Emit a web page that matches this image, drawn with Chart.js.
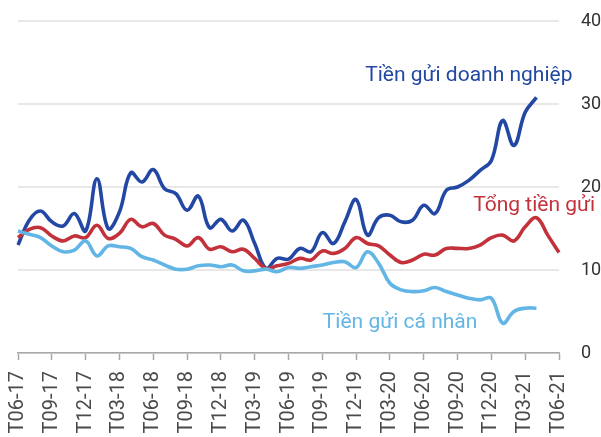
<!DOCTYPE html>
<html>
<head>
<meta charset="utf-8">
<script src="https://cdn.jsdelivr.net/npm/chart.js@4"></script>
<style>
  html, body { margin: 0; padding: 0; background: #fff; }
  #wrap { width: 601px; height: 437px; }
</style>
</head>
<body>
<div id="wrap"><canvas id="depositChart" width="601" height="437"></canvas></div>
<script>
const thang = [
    'T06-17', 'T07-17', 'T08-17', 'T09-17', 'T10-17', 'T11-17', 'T12-17',
    'T01-18', 'T02-18', 'T03-18', 'T04-18', 'T05-18', 'T06-18', 'T07-18', 'T08-18', 'T09-18', 'T10-18', 'T11-18', 'T12-18',
    'T01-19', 'T02-19', 'T03-19', 'T04-19', 'T05-19', 'T06-19', 'T07-19', 'T08-19', 'T09-19', 'T10-19', 'T11-19', 'T12-19',
    'T01-20', 'T02-20', 'T03-20', 'T04-20', 'T05-20', 'T06-20', 'T07-20', 'T08-20', 'T09-20', 'T10-20', 'T11-20', 'T12-20',
    'T01-21', 'T02-21', 'T03-21', 'T04-21', 'T05-21', 'T06-21'
];

const doanhNghiep = [
    13.0, 16.0, 17.1, 15.8, 15.3, 16.8, 14.7, 21.0, 15.0, 17.0,
    21.7, 20.6, 22.1, 19.8, 19.2, 17.2, 18.9, 15.1, 16.1, 14.7,
    16.0, 13.2, 10.2, 11.4, 11.3, 12.6, 12.2, 14.5, 13.2, 15.8,
    18.5, 14.2, 16.3, 16.6, 15.8, 16.0, 17.8, 16.8, 19.6, 20.0,
    20.8, 22.0, 23.2, 28.0, 25.0, 29.0, 30.8
];

const tongTienGui = [
    13.9, 14.9, 15.1, 14.1, 13.5, 14.1, 13.9, 15.4, 13.8, 14.4,
    16.1, 15.2, 15.6, 14.2, 13.7, 12.9, 13.9, 12.5, 12.8, 12.2,
    12.5, 11.4, 10.2, 10.5, 10.8, 11.4, 11.2, 12.3, 12.0, 12.6,
    13.9, 13.2, 12.9, 11.8, 10.9, 11.2, 11.9, 11.8, 12.6, 12.6,
    12.6, 13.0, 13.9, 14.2, 13.5, 15.2, 16.3, 14.2, 12.1
];

const caNhan = [
    14.7, 14.3, 13.9, 12.9, 12.2, 12.4, 13.5, 11.7, 12.9, 12.8,
    12.6, 11.6, 11.2, 10.6, 10.1, 10.1, 10.5, 10.6, 10.4, 10.6,
    9.9, 9.9, 10.1, 9.8, 10.3, 10.2, 10.4, 10.6, 10.9, 11.0,
    10.3, 12.2, 10.8, 8.4, 7.6, 7.4, 7.5, 7.9, 7.4, 7.0,
    6.6, 6.4, 6.6, 3.6, 5.0, 5.4, 5.4
];

const yTicks = [0, 10, 20, 30, 40];

const DARK_BLUE = '#2348a3';
const RED = '#c3323b';
const LIGHT_BLUE = '#62b5e5';

// nhãn tên đường, đặt theo (chỉ số tháng, giá trị)
const seriesLabels = [
    { text: 'Tiền gửi doanh nghiệp', at: 40, value: 33.4, color: DARK_BLUE },
    { text: 'Tổng tiền gửi', at: 45.8, value: 17.8, color: RED },
    { text: 'Tiền gửi cá nhân', at: 33.9, value: 3.6, color: LIGHT_BLUE }
];

const lineLabelPlugin = {
    id: 'lineLabels',
    afterDatasetsDraw(chart) {
        const { ctx, scales: { x, y } } = chart;
        ctx.save();
        ctx.font = '21px Roboto';
        ctx.textAlign = 'center';
        ctx.textBaseline = 'middle';
        seriesLabels.forEach(l => {
            const x0 = x.getPixelForValue(Math.floor(l.at));
            const x1 = x.getPixelForValue(Math.floor(l.at) + 1);
            const px = x0 + (x1 - x0) * (l.at - Math.floor(l.at));
            ctx.fillStyle = l.color;
            ctx.fillText(l.text, px, y.getPixelForValue(l.value));
        });
        ctx.restore();
    }
};

document.addEventListener("DOMContentLoaded", function () {
    const ctx = document.getElementById('depositChart').getContext('2d');

    const line = (data, color) => ({
        data: data,
        borderColor: color,
        backgroundColor: color,
        borderWidth: 3.6,
        pointRadius: 0,
        tension: 0.4,
        fill: false,
    });

    new Chart(ctx, {
        type: 'line',
        data: {
            labels: thang,
            datasets: [
                line(caNhan, LIGHT_BLUE),
                line(tongTienGui, RED),
                line(doanhNghiep, DARK_BLUE),
            ],
        },
        options: {
            responsive: false,
            animation: false,
            layout: { padding: { left: 18, top: 21, right: 0, bottom: 0 } },
            plugins: {
                legend: { display: false },
                tooltip: { enabled: false },
            },
            scales: {
                x: {
                    offset: false,
                    afterFit(scale) { scale.height = 84; },
                    grid: {
                        drawOnChartArea: false,
                        tickLength: 7,
                        tickWidth: 1.5,
                        tickColor: c => (c.index % 3 === 0 ? '#a8a8a8' : 'rgba(0,0,0,0)'),
                    },
                    border: { color: '#a8a8a8', width: 1.5 },
                    ticks: {
                        autoSkip: false,
                        minRotation: 90,
                        maxRotation: 90,
                        padding: 11,
                        color: '#4a4a4a',
                        font: { family: 'Roboto', size: 20 },
                        callback: function (v, i) { return i % 3 === 0 ? thang[i] : ''; },
                    },
                },
                y: {
                    position: 'right',
                    min: 0,
                    max: 40,
                    afterFit(scale) { scale.width = 42; },
                    afterBuildTicks(scale) { scale.ticks = yTicks.map(v => ({ value: v })); },
                    grid: {
                        color: '#e8e8e8',
                        lineWidth: 2,
                        drawTicks: true,
                        tickLength: 20,
                        tickColor: 'rgba(0,0,0,0)',
                    },
                    border: { display: false },
                    ticks: {
                        padding: 2,
                        color: '#333',
                        font: { family: 'Roboto', size: 18 },
                    },
                },
            },
        },
        plugins: [lineLabelPlugin],
    });
});
</script>
</body>
</html>
